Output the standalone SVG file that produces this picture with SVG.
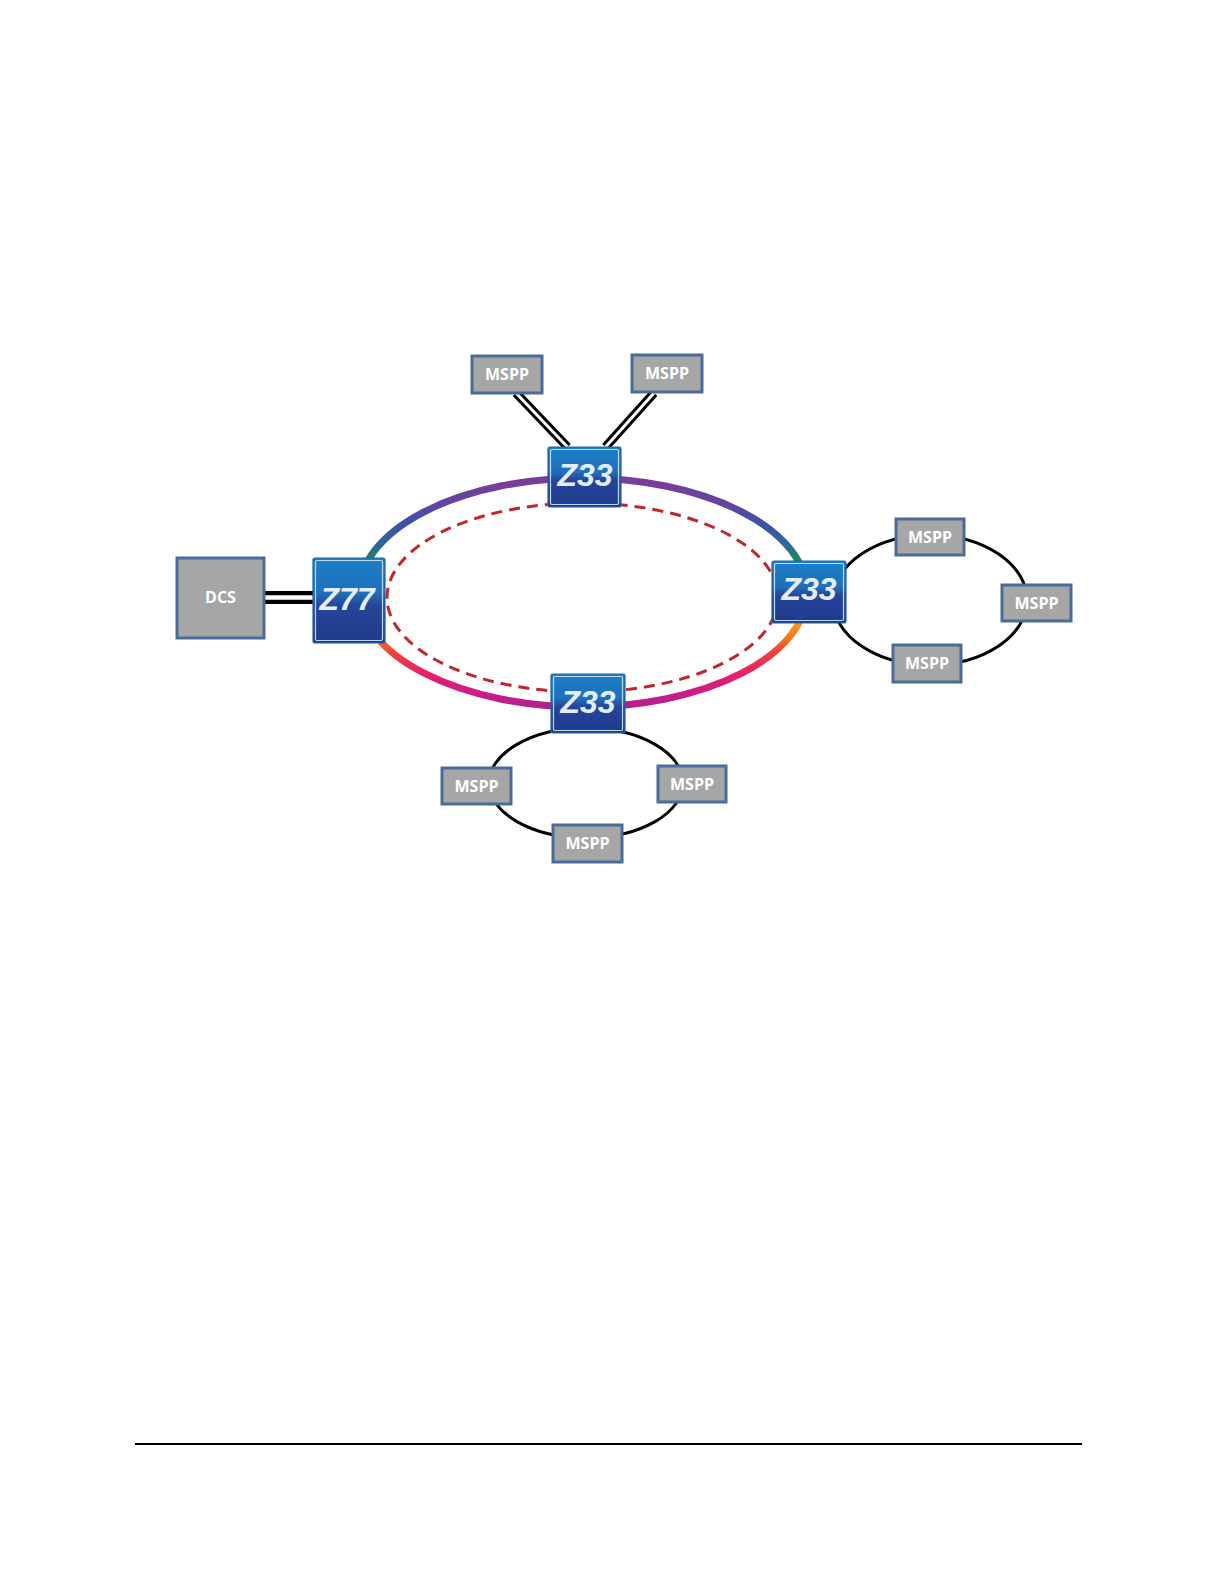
<svg xmlns="http://www.w3.org/2000/svg" width="1224" height="1584" viewBox="0 0 1224 1584">
<defs>
<linearGradient id="ringGrad" gradientUnits="userSpaceOnUse" x1="0" y1="478" x2="0" y2="707">
<stop offset="0" stop-color="#7e3c98"/>
<stop offset="0.12" stop-color="#5e46a2"/>
<stop offset="0.2" stop-color="#3d52a6"/>
<stop offset="0.3" stop-color="#2e6796"/>
<stop offset="0.35" stop-color="#1a8b5e"/>
<stop offset="0.5" stop-color="#1a8b5e"/>
<stop offset="0.62" stop-color="#f7a01c"/>
<stop offset="0.7" stop-color="#f47421"/>
<stop offset="0.77" stop-color="#ee3e3c"/>
<stop offset="0.86" stop-color="#e3206c"/>
<stop offset="0.94" stop-color="#cb1d86"/>
<stop offset="1" stop-color="#b0218f"/>
</linearGradient>
<linearGradient id="boxGrad" x1="0" y1="0" x2="0" y2="1">
<stop offset="0" stop-color="#1b80c8"/>
<stop offset="0.42" stop-color="#1e6fba"/>
<stop offset="0.5" stop-color="#2655a5"/>
<stop offset="0.56" stop-color="#24459a"/>
<stop offset="1" stop-color="#223a8a"/>
</linearGradient>
<style>
.zbox{fill:url(#boxGrad);stroke:#2a5f9f;stroke-width:1.2}
.zin{fill:none;stroke:#b9dcf3;stroke-width:1.2}
.ztxt{font-family:"Liberation Sans",Arial,sans-serif;font-weight:bold;font-style:italic;font-size:32px;fill:#e2eefa;text-anchor:middle}
.mbox{fill:#a6a6a6;stroke:#4a6b9a;stroke-width:3}
.mtxt{font-family:"Open Sans","Liberation Sans",sans-serif;font-weight:bold;font-size:16px;fill:#ffffff;text-anchor:middle}
.ring{fill:none;stroke:#000;stroke-width:3}
.dblB{stroke:#000;stroke-linecap:butt}
.dblW{stroke:#fff;stroke-linecap:butt}
</style>
</defs>
<rect width="1224" height="1584" fill="#ffffff"/>
<g id="connectors">
<ellipse cx="583" cy="592.5" rx="224" ry="114.5" fill="none" stroke="url(#ringGrad)" stroke-width="7"/>
<ellipse cx="582.5" cy="597.5" rx="195.5" ry="94.5" fill="none" stroke="#c0272d" stroke-width="3" stroke-dasharray="11 7"/>
<ellipse class="ring" cx="930" cy="600" rx="97" ry="65"/>
<ellipse class="ring" cx="586" cy="783" rx="97" ry="55"/>
<line class="dblB" x1="516" y1="393" x2="567.5" y2="447" stroke-width="9"/>
<line class="dblW" x1="516" y1="393" x2="567.5" y2="447" stroke-width="3"/>
<line class="dblB" x1="654" y1="393" x2="605.5" y2="447" stroke-width="9"/>
<line class="dblW" x1="654" y1="393" x2="605.5" y2="447" stroke-width="3"/>
<line class="dblB" x1="264" y1="597.5" x2="313" y2="597.5" stroke-width="13"/>
<line class="dblW" x1="264" y1="597.5" x2="313" y2="597.5" stroke-width="4.5"/>
<line x1="135" y1="1444" x2="1082" y2="1444" stroke="#000" stroke-width="2"/>
</g>
<g id="dcs">
<rect class="mbox" x="177" y="558" width="87" height="80"/>
<text class="mtxt" x="220.5" y="603">DCS</text>
</g>
<g id="z77">
<rect class="zbox" x="313" y="558" width="72" height="85" rx="2"/>
<rect class="zin" x="315.5" y="560.5" width="67" height="80" rx="1.5"/>
<text class="ztxt" x="347" y="610">Z77</text>
</g>
<g id="z33-top">
<rect class="zbox" x="548" y="447" width="73" height="60" rx="2"/>
<rect class="zin" x="550.5" y="449.5" width="68" height="55" rx="1.5"/>
<text class="ztxt" x="585" y="486">Z33</text>
</g>
<g id="z33-right">
<rect class="zbox" x="772" y="561" width="74" height="62" rx="2"/>
<rect class="zin" x="774.5" y="563.5" width="69" height="57" rx="1.5"/>
<text class="ztxt" x="809" y="600">Z33</text>
</g>
<g id="z33-bottom">
<rect class="zbox" x="551" y="674" width="74" height="59" rx="2"/>
<rect class="zin" x="553.5" y="676.5" width="69" height="54" rx="1.5"/>
<text class="ztxt" x="588" y="713">Z33</text>
</g>
<g id="mspp-top-left">
<rect class="mbox" x="472" y="356" width="70" height="37"/>
<text class="mtxt" x="507" y="380">MSPP</text>
</g>
<g id="mspp-top-right">
<rect class="mbox" x="632" y="355" width="70" height="37"/>
<text class="mtxt" x="667" y="379">MSPP</text>
</g>
<g id="mspp-right-top">
<rect class="mbox" x="896" y="519" width="68" height="36"/>
<text class="mtxt" x="930" y="542.5">MSPP</text>
</g>
<g id="mspp-right-right">
<rect class="mbox" x="1002" y="585" width="69" height="36"/>
<text class="mtxt" x="1036.5" y="608.5">MSPP</text>
</g>
<g id="mspp-right-bottom">
<rect class="mbox" x="893" y="645" width="68" height="37"/>
<text class="mtxt" x="927" y="669">MSPP</text>
</g>
<g id="mspp-bottom-left">
<rect class="mbox" x="442" y="768" width="69" height="36"/>
<text class="mtxt" x="476.5" y="791.5">MSPP</text>
</g>
<g id="mspp-bottom-right">
<rect class="mbox" x="658" y="766" width="68" height="36"/>
<text class="mtxt" x="692" y="789.5">MSPP</text>
</g>
<g id="mspp-bottom-bottom">
<rect class="mbox" x="553" y="825" width="69" height="37"/>
<text class="mtxt" x="587.5" y="849">MSPP</text>
</g>
</svg>
